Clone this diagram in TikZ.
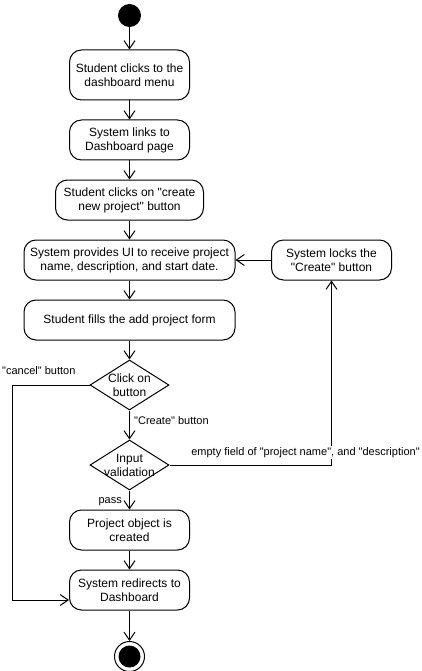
\documentclass[tikz,border=0pt]{standalone}
\usepackage{fontspec}
\setmainfont{Liberation Sans}[Ligatures=TeXOff]
\usetikzlibrary{shapes.geometric,arrows.meta}
\begin{document}
\begin{tikzpicture}[x=1pt,y=-1pt,
  act/.style={draw, line width=1pt, rounded corners=12pt, align=center,
    font=\fontsize{12}{14}\selectfont, inner sep=0pt},
  dec/.style={draw, line width=1pt, diamond, inner sep=0pt,
    minimum width=79pt, minimum height=50pt},
  dectext/.style={align=center, font=\fontsize{12}{14}\selectfont, inner sep=0pt},
  lbl/.style={font=\fontsize{11}{13}\selectfont, inner sep=1pt},
  arr/.style={line width=1pt, -{Straight Barb[length=8pt,width=11pt]}},
  flow/.style={line width=1pt}]
\useasboundingbox (0,0) rectangle (422,671);

\node[circle, fill=black, minimum size=23pt, inner sep=0pt] (start) at (129.5,15.5) {};
\node[act, minimum width=120pt, minimum height=50pt] (b1) at (129.5,75) {Student clicks to the\\dashboard menu};
\node[act, minimum width=120pt, minimum height=40pt] (b2) at (129.5,140) {System links to\\Dashboard page};
\node[act, minimum width=148pt, minimum height=40pt] (b3) at (129.5,200) {Student clicks on "create\\new project" button};
\node[act, minimum width=211pt, minimum height=40pt] (b4) at (129.5,260) {System provides UI to receive project\\name, description, and start date.};
\node[act, minimum width=120pt, minimum height=40pt] (b5) at (331.5,260) {System locks the\\"Create" button};
\node[act, minimum width=211pt, minimum height=40pt] (b6) at (129.5,320) {Student fills the add project form};
\node[dec] (d1) at (129.5,385) {};
\node[dectext] (t1) at (d1) {Click on\\button};
\node[dec] (d2) at (129.5,465) {};
\node[dectext] (t2) at (d2) {Input\\validation};
\node[act, minimum width=120pt, minimum height=40pt] (b7) at (129.5,530) {Project object is\\created};
\node[act, minimum width=120pt, minimum height=40pt] (b8) at (129.5,590) {System redirects to\\Dashboard};
\node[circle, draw, line width=1pt, minimum size=30pt, inner sep=0pt] (end) at (129.5,656.5) {};
\node[circle, fill=black, minimum size=22pt, inner sep=0pt] (endin) at (end) {};

\coordinate (c1) at (12,385);
\coordinate (c2) at (331.5,465);

\draw[arr] (start) -- (b1);
\draw[arr] (b1) -- (b2);
\draw[arr] (b2) -- (b3);
\draw[arr] (b3) -- (b4);
\draw[arr] (b5) -- (b4);
\draw[arr] (b4) -- (b6);
\draw[arr] (b6) -- (d1);
\draw[arr] (d1) -- (d2);
\draw[arr] (d2) -- (b7);
\draw[arr] (b7) -- (b8);
\draw[arr] (b8) -- (end);
\draw[arr] (d1.west) -- (c1) |- ([yshift=-10pt]b8.west);
\draw[arr] (d2.east) -- (c2) -- (b5.south);

\node[lbl, anchor=west] (lcancel) at (1,371) {"cancel" button};
\node[lbl, anchor=west] (lcreate) at (133,421) {"Create" button};
\node[lbl, anchor=east] (lpass) at (123,502) {pass};
\node[lbl, fill=white] (lempty) at (305.5,452.5) {empty field of "project name", and "description"};
\end{tikzpicture}
\end{document}
